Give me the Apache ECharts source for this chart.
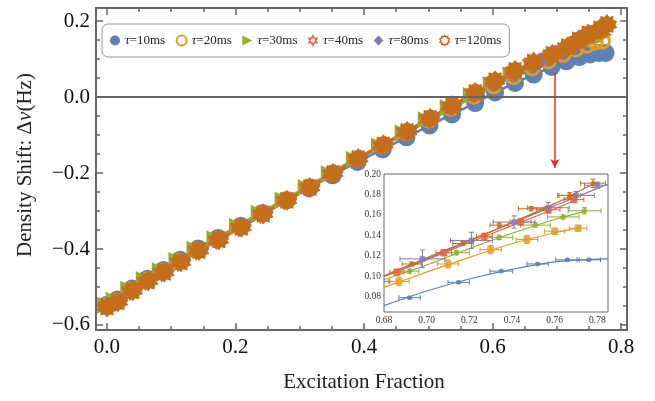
<!DOCTYPE html>
<html><head><meta charset="utf-8">
<script src="https://cdn.jsdelivr.net/npm/echarts@6/dist/echarts.min.js"></script>
<style>html,body{margin:0;padding:0;background:#fff}#c{width:655px;height:401px}</style>
</head><body><div id="c"></div>
<script>
// ---------- data ----------
const seriesNames = ['τ=10ms','τ=20ms','τ=30ms','τ=40ms','τ=80ms','τ=120ms'];

const x10 = [0.000,0.016,0.039,0.063,0.088,0.114,0.142,0.173,0.208,0.242,0.279,0.315,0.351,0.390,0.429,0.466,0.502,0.537,0.573,0.604,0.635,0.664,0.692,0.715,0.735,0.752,0.766,0.776];
const y10 = [-0.547,-0.533,-0.504,-0.478,-0.455,-0.428,-0.399,-0.371,-0.339,-0.305,-0.272,-0.240,-0.206,-0.171,-0.138,-0.106,-0.075,-0.046,-0.016,0.012,0.037,0.059,0.079,0.094,0.105,0.112,0.116,0.116];

const x20 = [0.000,0.015,0.038,0.062,0.087,0.113,0.141,0.172,0.207,0.241,0.278,0.314,0.350,0.389,0.428,0.465,0.501,0.535,0.571,0.602,0.633,0.662,0.687,0.710,0.730,0.747,0.760,0.771];
const y20 = [-0.550,-0.537,-0.508,-0.482,-0.459,-0.432,-0.403,-0.375,-0.342,-0.307,-0.271,-0.237,-0.201,-0.163,-0.128,-0.094,-0.061,-0.030,0.002,0.029,0.053,0.076,0.095,0.112,0.126,0.136,0.144,0.147];

const x30 = [-0.002,0.011,0.034,0.058,0.083,0.109,0.137,0.168,0.203,0.237,0.274,0.310,0.346,0.385,0.424,0.461,0.497,0.531,0.567,0.598,0.629,0.662,0.692,0.714,0.734,0.751,0.764,0.774];
const y30 = [-0.548,-0.535,-0.506,-0.480,-0.457,-0.430,-0.401,-0.373,-0.340,-0.306,-0.271,-0.238,-0.202,-0.164,-0.129,-0.095,-0.060,-0.028,0.004,0.032,0.058,0.083,0.105,0.123,0.138,0.150,0.158,0.164];

const x40 = [0.000,0.013,0.036,0.060,0.085,0.111,0.139,0.170,0.205,0.239,0.276,0.312,0.348,0.387,0.426,0.463,0.499,0.533,0.569,0.600,0.631,0.660,0.686,0.708,0.727,0.744,0.757,0.769];
const y40 = [-0.551,-0.541,-0.512,-0.486,-0.463,-0.436,-0.406,-0.378,-0.345,-0.310,-0.274,-0.240,-0.203,-0.164,-0.128,-0.093,-0.058,-0.025,0.009,0.038,0.062,0.086,0.104,0.123,0.139,0.153,0.165,0.175];

const x80 = [0.004,0.021,0.044,0.068,0.093,0.119,0.147,0.178,0.213,0.247,0.284,0.320,0.356,0.395,0.434,0.471,0.507,0.541,0.577,0.608,0.639,0.675,0.698,0.721,0.741,0.757,0.770,0.780];
const y80 = [-0.551,-0.536,-0.507,-0.481,-0.458,-0.431,-0.401,-0.373,-0.340,-0.305,-0.269,-0.235,-0.198,-0.159,-0.123,-0.089,-0.054,-0.021,0.013,0.043,0.071,0.095,0.117,0.135,0.153,0.167,0.179,0.189];

const x120 = [0.000,0.017,0.040,0.064,0.089,0.115,0.143,0.174,0.209,0.243,0.280,0.316,0.352,0.391,0.430,0.467,0.503,0.537,0.573,0.604,0.635,0.664,0.693,0.717,0.734,0.749,0.767,0.778];
const y120 = [-0.553,-0.539,-0.510,-0.484,-0.461,-0.434,-0.404,-0.376,-0.343,-0.308,-0.272,-0.238,-0.201,-0.162,-0.126,-0.091,-0.056,-0.023,0.012,0.043,0.070,0.092,0.112,0.132,0.150,0.166,0.179,0.191];

// inset error bars (for points with x > 0.67)
const xe10 = [0.005,0.005,0.0053,0.005,0.0055,0.0055];
const ye10 = [0.0008,0.0008,0.0008,0.0008,0.0008,0.0008];
const xe20 = [0.0048,0.005,0.005,0.005,0.0047,0.0041];
const ye20 = [0.004,0.004,0.004,0.004,0.003,0.003];
const xe30 = [0.0043,0.006,0.0064,0.007,0.0074,0.0077];
const ye30 = [0.002,0.002,0.002,0.002,0.002,0.003];
const xe40 = [0.0033,0.0037,0.0037,0.005,0.0055,0.0047];
const ye40 = [0.003,0.003,0.003,0.003,0.003,0.003];
const xe80 = [0.0077,0.0105,0.0098,0.0098,0.0098,0.0086,0.006];
const ye80 = [0.004,0.0086,0.008,0.006,0.005,0.004,0.003];
const xe120 = [0.0045,0.0048,0.0043,0.006,0.005,0.0058];
const ye120 = [0.002,0.002,0.002,0.002,0.003,0.004];

// inset fitted curves
const fx10 = [0.68,0.70,0.72,0.74,0.76,0.785];  const fy10 = [0.0712,0.0855,0.0973,0.1067,0.1140,0.1172];
const fx20 = [0.68,0.70,0.72,0.74,0.76,0.772];  const fy20 = [0.0891,0.1040,0.1185,0.1318,0.1425,0.1475];
const fx30 = [0.68,0.70,0.72,0.74,0.76,0.775];  const fy30 = [0.0965,0.1110,0.1270,0.1420,0.1555,0.1640];
const fx40 = [0.68,0.70,0.72,0.74,0.76,0.770];  const fy40 = [0.0995,0.1160,0.1330,0.1495,0.1660,0.1745];
const fx80 = [0.68,0.70,0.72,0.74,0.76,0.785];  const fy80 = [0.1000,0.1168,0.1345,0.1520,0.1690,0.1900];
const fx120 = [0.68,0.70,0.72,0.74,0.76,0.779]; const fy120 = [0.1005,0.1180,0.1350,0.1525,0.1710,0.1915];

// ticks
const xTicks = [0,0.2,0.4,0.6,0.8];
const xMinor = [0.05,0.1,0.15,0.25,0.3,0.35,0.45,0.5,0.55,0.65,0.7,0.75];
const yTicks = [-0.6,-0.4,-0.2,0,0.2];
const yMinor = [-0.55,-0.5,-0.45,-0.35,-0.3,-0.25,-0.15,-0.1,-0.05,0.05,0.1,0.15];
const ixTicks = [0.68,0.70,0.72,0.74,0.76,0.78];
const ixMinor = [0.685,0.69,0.695,0.705,0.71,0.715,0.725,0.73,0.735,0.745,0.75,0.755,0.765,0.77,0.775];
const iyTicks = [0.08,0.10,0.12,0.14,0.16,0.18,0.20];
const iyMinor = [0.07,0.075,0.085,0.09,0.095,0.105,0.11,0.115,0.125,0.13,0.135,0.145,0.15,0.155,0.165,0.17,0.175,0.185,0.19,0.195];

// annotation arrow (data coords)
const arrowX = [0.697,0.697];
const arrowY = [0.066,-0.187];

// ---------- styling ----------
const C = ['#5E81B5','#E19C24','#8FB032','#EB6235','#8778B3','#C56E1A'];
const FONT = '"Liberation Serif","Times New Roman",serif';
const frameColor = '#666';

function starPath(n, rOut, rIn){
  let s='path://';
  for(let k=0;k<2*n;k++){
    const r=k%2?rIn:rOut; const a=Math.PI*k/n-Math.PI/2;
    s+=(k?'L':'M')+(r*Math.cos(a)).toFixed(2)+','+(r*Math.sin(a)).toFixed(2)+' ';
  }
  return s+'Z';
}
const gearPath = starPath(10,10,7.4);
const hexPath = 'path://M0,-10 L8.66,5 L-8.66,5 Z M0,10 L-8.66,-5 L8.66,-5 Z';
const triPath = 'path://M0,0 L10,5 L0,10 Z';

const X = [x10,x20,x30,x40,x80,x120];
const Y = [y10,y20,y30,y40,y80,y120];
const XE = [xe10,xe20,xe30,xe40,xe80,xe120];
const YE = [ye10,ye20,ye30,ye40,ye80,ye120];
const FX = [fx10,fx20,fx30,fx40,fx80,fx120];
const FY = [fy10,fy20,fy30,fy40,fy80,fy120];

const mainSym = ['circle','circle',triPath,hexPath,'diamond',gearPath];
const mainSize = [18,14,17,19,16,21];
const mainItem = [
  {color:C[0]},
  {color:'rgba(0,0,0,0)',borderColor:C[1],borderWidth:3},
  {color:C[2]},
  {color:C[3]},
  {color:C[4]},
  {color:C[5]}
];
const legendItem = [
  {color:C[0]},
  {color:'#fff',borderColor:C[1],borderWidth:2},
  {color:C[2]},
  {color:'#fff',borderColor:C[3],borderWidth:1.2},
  {color:C[4]},
  {color:'#fff',borderColor:C[5],borderWidth:1.5}
];
const insetSym = ['circle','rect','diamond','rect','roundRect','circle'];
const insetSize = [5,7,7,7,6,5];

// ---------- axes ----------
function mkAxes(grid, min, max, majors, minors, positions, lab, majLen, minLen, tw){
  const out=[];
  positions.forEach((pos,pi)=>{
    [[majors,majLen],[minors,minLen]].forEach(([vals,len],k)=>{
      out.push({
        type:'value', gridIndex:grid, position:pos, min:min, max:max,
        axisLine:{show:false,onZero:false}, splitLine:{show:false},
        axisTick:{show:true, inside:true, length:len, customValues:vals, lineStyle:{color:frameColor,width:tw}},
        axisLabel:(pi===0&&k===0)?Object.assign({show:true,customValues:vals},lab):{show:false}
      });
    });
  });
  return out;
}
const fmt1 = v => (v<0?'\u2212':'')+Math.abs(v).toFixed(1);
const fmt2 = v => v.toFixed(2);
const mainLab = {fontFamily:FONT, fontSize:21, color:'#111', formatter:fmt1};
const insetLab = {fontFamily:FONT, fontSize:9.5, color:'#333', formatter:fmt2};

const xAxes = [].concat(
  mkAxes(0,-0.0171,0.8093,xTicks,xMinor,['bottom','top'],Object.assign({margin:7},mainLab),7,4,1.5),
  mkAxes(1,0.68,0.785,ixTicks,ixMinor,['bottom','top'],Object.assign({margin:3},insetLab),4,2,1)
);
const yAxes = [].concat(
  mkAxes(0,-0.6132,0.2342,yTicks,yMinor,['left','right'],Object.assign({margin:6},mainLab),7,4,1.5),
  mkAxes(1,0.065,0.20,iyTicks,iyMinor,['left','right'],Object.assign({margin:3},insetLab),4,2,1)
);

// ---------- series ----------
const series = [];
for(let i=0;i<6;i++){
  const s = {
    type:'line', name:seriesNames[i], xAxisIndex:0, yAxisIndex:0,
    data:X[i].map((x,k)=>[x,Y[i][k]]),
    symbol:mainSym[i], symbolSize:mainSize[i], showSymbol:true,
    itemStyle:mainItem[i], lineStyle:{color:C[i],width:2.5},
    emphasis:{disabled:true}
  };
  if(i===0){
    s.markLine = {silent:true, symbol:['none','none'], label:{show:false},
      lineStyle:{color:'#666',width:2,type:'solid'}, data:[{yAxis:0}], animation:false};
  }
  if(i===5){
    s.markLine = {silent:true, symbol:['none','arrow'], symbolSize:[7,9], label:{show:false},
      lineStyle:{color:'#E8302A',width:1.5,type:'solid'},
      data:[[{coord:[arrowX[0],arrowY[0]]},{coord:[arrowX[1],arrowY[1]]}]], animation:false};
  }
  series.push(s);
}
function errRender(color){
  return function(params, api){
    const x=api.value(0), y=api.value(1), ex=api.value(2), ey=api.value(3);
    const cs=params.coordSys;
    const xmin=cs.x, xmax=cs.x+cs.width;
    const L=api.coord([x-ex,y]), R=api.coord([x+ex,y]), T=api.coord([x,y+ey]), B=api.coord([x,y-ey]);
    const st={stroke:color,lineWidth:1};
    const cap=2.5;
    const ch=[];
    const cl=v=>Math.max(xmin,Math.min(xmax,v));
    const l=cl(L[0]), r=cl(R[0]);
    if(r>l) ch.push({type:'line',shape:{x1:l,y1:L[1],x2:r,y2:R[1]},style:st});
    if(L[0]>=xmin) ch.push({type:'line',shape:{x1:L[0],y1:L[1]-cap,x2:L[0],y2:L[1]+cap},style:st});
    if(R[0]<=xmax) ch.push({type:'line',shape:{x1:R[0],y1:R[1]-cap,x2:R[0],y2:R[1]+cap},style:st});
    if(T[0]>=xmin && T[0]<=xmax){
      ch.push({type:'line',shape:{x1:T[0],y1:T[1],x2:B[0],y2:B[1]},style:st});
      ch.push({type:'line',shape:{x1:T[0]-cap,y1:T[1],x2:T[0]+cap,y2:T[1]},style:st});
      ch.push({type:'line',shape:{x1:B[0]-cap,y1:B[1],x2:B[0]+cap,y2:B[1]},style:st});
    }
    return {type:'group',children:ch};
  };
}
for(let i=0;i<6;i++){
  series.push({type:'line', name:'fit'+i, xAxisIndex:4, yAxisIndex:4,
    data:FX[i].map((x,k)=>[x,FY[i][k]]), showSymbol:false, smooth:0.3,
    lineStyle:{color:C[i],width:1.2}, clip:true, emphasis:{disabled:true}, z:3});
}
for(let i=0;i<6;i++){
  const pts = X[i].map((x,k)=>[x,Y[i][k]]).filter(p=>p[0]>0.67);
  series.push({type:'custom', name:'err'+i, xAxisIndex:4, yAxisIndex:4, clip:true,
    data:pts.map((p,k)=>[p[0],p[1],XE[i][k],YE[i][k]]), renderItem:errRender(C[i]), z:4});
  series.push({type:'scatter', name:'pt'+i, xAxisIndex:4, yAxisIndex:4, clip:true,
    data:pts, symbol:insetSym[i], symbolSize:insetSize[i], itemStyle:{color:C[i]}, z:5,
    emphasis:{disabled:true}});
}

const option = {
  animation:false,
  textStyle:{fontFamily:FONT},
  grid:[
    {left:96, top:8, width:531, height:322, show:true, borderColor:frameColor, borderWidth:2, backgroundColor:'#fff'},
    {left:384, top:174, width:224, height:138, show:true, borderColor:frameColor, borderWidth:1, backgroundColor:'#fff', z:3}
  ],
  xAxis:xAxes, yAxis:yAxes,
  legend:{
    left:102, top:24, orient:'horizontal',
    data:seriesNames.map((n,i)=>({name:n, icon:mainSym[i], itemStyle:legendItem[i]})),
    itemWidth:10, itemHeight:10, itemGap:10.5,
    padding:[10,8,10,8],
    backgroundColor:'#fff', borderColor:'#999', borderWidth:1, borderRadius:6,
    formatter: n => '{i|τ}{n|'+n.slice(1)+'}',
    textStyle:{color:'#222', fontFamily:FONT, fontSize:13,
      rich:{i:{fontStyle:'italic',fontFamily:FONT,fontSize:13,color:'#222'}, n:{fontFamily:FONT,fontSize:13,color:'#222'}}},
    selectedMode:false
  },
  graphic:[
    {type:'text', x:25, y:165, rotation:Math.PI/2,
      style:{text:'{a|Density Shift: Δ}{b|ν}{a|(Hz)}', align:'center', verticalAlign:'middle',
        rich:{a:{fontFamily:FONT,fontSize:21,fill:'#222'}, b:{fontFamily:FONT,fontSize:21,fontStyle:'italic',fill:'#222'}}}},
    {type:'text', x:364, y:382,
      style:{text:'Excitation Fraction', font:'21px '+FONT, fill:'#222', align:'center', verticalAlign:'middle'}}
  ],
  series:series
};
const chart = echarts.init(document.getElementById('c'), null, {renderer:'canvas'});
chart.setOption(option);
</script></body></html>
